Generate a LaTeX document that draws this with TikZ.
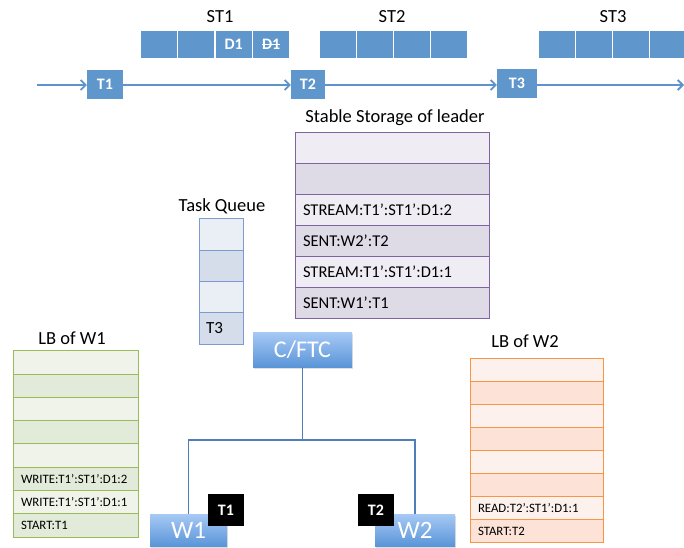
\documentclass[tikz,border=0pt]{standalone}
\usepackage{fontspec}
\setmainfont{Carlito}
\usetikzlibrary{arrows.meta,shadows}
\definecolor{topblue}{HTML}{5F96CC}
\definecolor{arrowblue}{HTML}{5F93CC}
\definecolor{ssborder}{HTML}{8064A2}
\definecolor{ssl}{HTML}{EFEDF3}
\definecolor{ssd}{HTML}{DEDAE6}
\definecolor{tqborder}{HTML}{7C9CD0}
\definecolor{tql}{HTML}{EAEEF5}
\definecolor{tqd}{HTML}{D5DCEA}
\definecolor{gborder}{HTML}{9BBB59}
\definecolor{gl}{HTML}{EFF3EA}
\definecolor{gd}{HTML}{E2EBD9}
\definecolor{oborder}{HTML}{F79646}
\definecolor{ol}{HTML}{FCF1EC}
\definecolor{od}{HTML}{FCE2D7}
\definecolor{gradtop}{HTML}{A7C9F5}
\definecolor{gradbot}{HTML}{5A95D8}
\definecolor{treeline}{HTML}{4F7FB8}
\newcommand\fsz[1]{\fontsize{#1}{#1}\selectfont}
\newcommand\strk[1]{\setbox0\hbox{#1}\rlap{\rule[0.3em]{\wd0}{0.07em}}\box0}
\begin{document}
\begin{tikzpicture}[x=1pt,y=-1pt,
  topcell/.style={fill=topblue, draw=white, line width=1.2pt, minimum width=37.5pt, minimum height=29pt, inner sep=0pt, text=white, font=\fsz{16}\bfseries},
  tbox/.style={fill=topblue, minimum height=29pt, inner sep=0pt, text=white, font=\fsz{16}\bfseries},
  tline/.style={draw=arrowblue, line width=1.8pt, -{Straight Barb[length=5pt,width=10pt]}},
  lbl/.style={font=\fsz{18.5}, inner sep=0pt},
  ssrow/.style={draw=ssborder, line width=1pt, text width=178pt, inner xsep=8pt, inner ysep=0pt, minimum height=31pt, align=left, font=\fsz{16.5}},
  tqrow/.style={draw=tqborder, line width=1pt, text width=30pt, inner xsep=7pt, inner ysep=0pt, minimum height=31.25pt, align=left, font=\fsz{17}},
  greenrow/.style={draw=gborder, line width=1pt, text width=109pt, inner xsep=8pt, inner ysep=0pt, minimum height=23.25pt, align=left, font=\fsz{12.8}},
  orangerow/.style={draw=oborder, line width=1pt, text width=117pt, inner xsep=8pt, inner ysep=0pt, minimum height=23.125pt, align=left, font=\fsz{12.8}},
  gradbox/.style={top color=gradtop, bottom color=gradbot, text=white, inner sep=0pt, drop shadow={opacity=0.25, shadow xshift=1pt, shadow yshift=-1.5pt}},
  blackbox/.style={fill=black, text=white, font=\fsz{16}\bfseries, minimum width=36pt, minimum height=32pt, inner sep=0pt},
  tree/.style={draw=treeline, line width=1.2pt}
]
\useasboundingbox (0,0) rectangle (684,547);

% ---- top storage blocks
\node[lbl] (st1) at (220,17) {ST1};
\node[lbl] (st2) at (392,17) {ST2};
\node[lbl] (st3) at (613,17) {ST3};
\node[topcell] (a1) at (158.75,44.5) {};
\node[topcell] (a2) at (196.25,44.5) {};
\node[topcell] (a3) at (233.75,44.5) {D1};
\node[topcell] (a4) at (271.25,44.5) {\strk{D1}};
\node[topcell, minimum width=37.25pt] (b1) at (337.6,44.5) {};
\node[topcell, minimum width=37.25pt] (b2) at (374.9,44.5) {};
\node[topcell, minimum width=37.25pt] (b3) at (412.1,44.5) {};
\node[topcell, minimum width=37.25pt] (b4) at (449.4,44.5) {};
\node[topcell, minimum width=37.25pt] (c1) at (556.6,44.5) {};
\node[topcell, minimum width=37.25pt] (c2) at (593.9,44.5) {};
\node[topcell, minimum width=37.25pt] (c3) at (631.1,44.5) {};
\node[topcell, minimum width=37.25pt] (c4) at (668.4,44.5) {};

% ---- timeline
\node[tbox, minimum width=36pt] (t1) at (105,84.5) {T1};
\node[tbox, minimum width=34pt] (t2) at (308,84) {T2};
\node[tbox, minimum width=40pt] (t3) at (517,83.5) {T3};
\coordinate (tstart) at (37,85);
\coordinate (tend) at (684,85);
\draw[tline] (tstart) -- (tstart -| t1.west);
\draw[tline] (t1.east |- tstart) -- (tstart -| t2.west);
\draw[tline] (t2.east |- tstart) -- (tstart -| t3.west);
\draw[tline] (t3.east |- tstart) -- (tend);

% ---- stable storage of leader
\node[lbl] (sslabel) at (395,118) {Stable Storage of leader};
\node[ssrow, fill=ssl] (s1) at (392,147.5) {};
\node[ssrow, fill=ssd] (s2) at (392,178.5) {};
\node[ssrow, fill=ssl] (s3) at (392,209.5) {STREAM:T1’:ST1’:D1:2};
\node[ssrow, fill=ssd] (s4) at (392,240.5) {SENT:W2’:T2};
\node[ssrow, fill=ssl] (s5) at (392,271.5) {STREAM:T1’:ST1’:D1:1};
\node[ssrow, fill=ssd] (s6) at (392,302.5) {SENT:W1’:T1};

% ---- task queue
\node[lbl] (tqlabel) at (222,206) {Task Queue};
\node[tqrow, fill=tql] (q1) at (221,234.6) {};
\node[tqrow, fill=tqd] (q2) at (221,265.9) {};
\node[tqrow, fill=tql] (q3) at (221,297.1) {};
\node[tqrow, fill=tqd] (q4) at (221,328.4) {T3};

% ---- LB of W1
\node[lbl] (lb1label) at (72,338) {LB of W1};
\node[greenrow, fill=gl] (g1) at (75.5,362.6) {};
\node[greenrow, fill=gd] (g2) at (75.5,385.9) {};
\node[greenrow, fill=gl] (g3) at (75.5,409.1) {};
\node[greenrow, fill=gd] (g4) at (75.5,432.4) {};
\node[greenrow, fill=gl] (g5) at (75.5,455.6) {};
\node[greenrow, fill=gd] (g6) at (75.5,478.9) {WRITE:T1’:ST1’:D1:2};
\node[greenrow, fill=gl] (g7) at (75.5,502.1) {WRITE:T1’:ST1’:D1:1};
\node[greenrow, fill=gd] (g8) at (75.5,525.4) {START:T1};

% ---- LB of W2
\node[lbl] (lb2label) at (525,341) {LB of W2};
\node[orangerow, fill=ol] (o1) at (536.5,369.6) {};
\node[orangerow, fill=od] (o2) at (536.5,392.7) {};
\node[orangerow, fill=ol] (o3) at (536.5,415.8) {};
\node[orangerow, fill=od] (o4) at (536.5,438.9) {};
\node[orangerow, fill=ol] (o5) at (536.5,462.1) {};
\node[orangerow, fill=od] (o6) at (536.5,485.2) {};
\node[orangerow, fill=ol] (o7) at (536.5,508.3) {READ:T2’:ST1’:D1:1};
\node[orangerow, fill=od] (o8) at (536.5,531.4) {START:T2};

% ---- C/FTC tree
\node[gradbox, minimum width=99pt, minimum height=35pt, font=\fsz{24}] (ftc) at (302.5,349.5) {C/FTC};
\node[gradbox, minimum width=77pt, minimum height=32pt, font=\fsz{25}] (w1) at (188.5,530) {W1};
\node[gradbox, minimum width=80pt, minimum height=32pt, font=\fsz{25}] (w2) at (415,530) {W2};
\coordinate (j) at (302.5,440);
\draw[tree] (ftc.south) -- (j);
\draw[tree] (w1.north) |- (j) -| (w2.north);
\node[blackbox] (bt1) at (226,510) {T1};
\node[blackbox] (bt2) at (376,510) {T2};
\end{tikzpicture}
\end{document}
